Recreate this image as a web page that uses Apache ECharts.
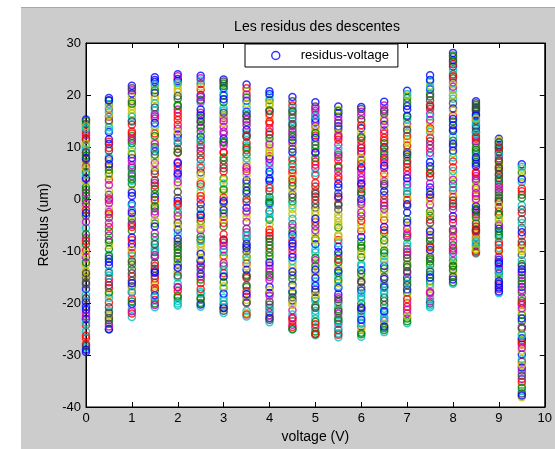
<!DOCTYPE html>
<html>
<head>
<meta charset="utf-8">
<script src="https://cdn.jsdelivr.net/npm/echarts@6/dist/echarts.min.js"></script>
<style>
  html, body { margin: 0; padding: 0; background: #fff; }
  #fig { position: absolute; left: 21px; top: 7px; width: 534px; height: 442px; background: #cccccc; border-top: 1px solid #a8a8a8; }
  #chart { position: absolute; left: 0; top: 0; width: 555px; height: 449px; }
</style>
</head>
<body>
<div id="fig"></div>
<div id="chart"></div>
<script>
// tensions appliquees (V)
const voltages = [0, 0.5, 1, 1.5, 2, 2.5, 3, 3.5, 4, 4.5, 5, 5.5, 6, 6.5, 7, 7.5, 8, 8.5, 9, 9.5]

// residus (um) lus pour chaque tension, une valeur par descente
const r00 = [15.3, -3.2, 8.9, -28.6, 4.1, -12.7, 11.4, -19.8, 0.6, -24.3, 13.2, -7.5, 6.8, -15.1, -29.4, 2.3, -9.9, 10.1, -22.0, -1.4, 14.4, -17.3, 5.2, -26.8, -5.6, 12.3, -13.9, 7.6, -20.7, -0.3, -27.9, 9.5, -11.2, 3.4, -16.4, -23.1,
  -8.7, 12.8, -25.5, 1.2, -14.6, 9.0, -21.3, 15.0, -2.1, -18.4, 6.2, -10.6, -28.2, 3.9, -6.8, 11.7, -23.8, -0.9, 14.0, -16.0, 7.9, -12.2, -26.3, 4.7, -4.4, 10.6, -19.1, -29.0, 1.8, -8.1, 13.6, -22.6, 5.9, -14.3, -2.7, 8.3]
const r05 = [19.4, -8.3, 3.7, -21.6, 15.8, -1.9, -14.2, 10.6, -25.1, 6.2, -10.7, 17.3, -18.4, 0.8, 12.9, -23.3, -5.4, 8.1, -16.0, 14.6, -3.6, -12.1, 4.9, -19.9, 18.2, -7.0, 1.6, -24.0, 11.5, -9.6, -15.3, 16.7, -2.5, 7.3, -20.8, -11.5,
  5.6, -17.1, 13.8, -4.6, -22.4, 9.3, -12.8, 18.9, -0.2, -19.0, 2.7, -8.9, 15.1, -25.0, -6.2, 11.0, -14.7, 0.1, 17.8, -21.9, 7.7, -11.0, -2.9, 13.2, -24.5, 4.4, -16.6, 19.0, -7.9, 9.8, -13.9, -0.8, 16.1, -22.9, 6.7, -18.0]
const r10 = [21.8, -6.1, 11.2, -22.7, 4.4, 17.9, -13.5, -0.9, 8.6, -19.2, 15.1, -9.3, 1.7, -16.8, 20.3, -3.8, 13.0, -21.1, 6.5, -11.7, 18.8, -7.4, 2.9, -14.9, 9.8, -18.0, 16.4, -4.6, -20.2, 12.1, -10.4, 5.6, -2.2, 19.6, -15.7, 7.9,
  -12.6, 14.3, -1.3, 20.9, -17.4, 6.0, -8.6, 10.7, -22.0, 3.5, -5.0, 17.2, -14.3, 0.6, -19.7, 12.6, -10.9, 7.3, -3.1, 21.3, -16.2, 4.9, -7.9, 15.8, -21.6, 9.1, -12.0, 1.2, 18.3, -5.4, -17.9, 11.6, -9.8, 14.9, -2.7, 3.8]
const r15 = [23.4, -4.7, 12.6, -20.8, 6.9, 19.7, -12.3, 0.4, -17.6, 15.5, -8.1, 3.1, 21.6, -14.8, 9.2, -1.8, -19.4, 17.0, -6.6, 11.1, -10.2, 22.5, 1.9, -16.1, 14.0, -3.0, 7.8, -13.4, 20.4, -20.1, 4.8, -9.4, 16.3, -0.7, 10.0, -18.5,
  8.5, -15.3, 18.4, -2.4, 13.1, -11.2, 22.9, -7.3, 2.6, -18.9, 15.9, -4.1, 5.4, -13.9, 20.9, -0.2, -9.9, 10.6, -16.7, 17.6, -5.3, 1.0, -12.9, 22.0, -20.4, 6.2, -8.7, 14.6, -1.4, -17.1, 9.6, -10.8, 19.2, 3.6, -14.2, 12.1]
const r20 = [24.0, -2.6, 14.3, -20.5, 7.1, 21.2, -11.0, -5.9, 18.1, -17.0, 3.9, 11.8, -14.1, 0.2, 22.7, -8.8, 15.9, -19.6, 5.5, -3.9, 9.6, -12.6, 19.3, -1.2, -16.3, 13.5, 2.6, -9.7, 23.1, -18.6, 6.3, -6.8, 17.2, -13.8, 10.7, -0.4,
  -9.2, 16.6, -15.1, 4.6, 20.6, -4.6, 12.4, -19.0, 8.9, -1.8, 23.6, -12.1, 1.4, -7.6, 17.9, -17.7, 11.2, -3.3, 21.9, -14.7, 6.9, -10.4, 15.2, -20.1, 3.2, -5.3, 19.8, -13.2, 9.0, -0.9, 22.3, -16.9, 12.9, -8.2, 4.9, -11.6]
const r25 = [23.7, -7.2, 10.4, -20.7, 16.6, 1.3, -13.0, 20.0, -4.3, 6.0, -17.9, 13.7, -10.0, 22.1, -1.0, -15.5, 8.4, 18.5, -6.0, 3.3, -19.3, 12.0, -11.8, 21.0, -2.8, 15.0, -8.6, 5.1, -14.4, 19.1, -0.1, -18.2, 9.9, -5.0, 14.8, -12.0,
  11.3, -16.2, 2.4, 19.6, -9.2, 7.6, -20.3, 14.1, -3.6, 22.8, -12.8, 4.5, -7.8, 17.2, -19.0, 0.6, 10.9, -14.9, 21.6, -1.9, -10.6, 13.0, -17.3, 6.7, 23.2, -5.6, -13.6, 16.1, -20.0, 2.9, -8.1, 18.9, -11.4, 9.2, -3.1, 15.6]
const r30 = [23.0, -5.3, 9.1, -21.9, 15.6, 2.0, -12.9, 19.9, -8.4, 6.6, -17.2, 12.5, -1.5, -20.3, 21.3, 4.0, -10.9, 17.5, -3.4, -15.0, 10.8, -7.8, 22.2, 0.3, -19.0, 13.9, -11.4, 7.4, -2.1, 18.6, -14.3, 3.0, -9.0, 16.0, -21.0, 11.6,
  -16.0, 5.3, 20.4, -9.7, 14.6, -0.7, -20.9, 8.0, -4.6, 17.0, -12.3, 1.2, 22.6, -18.2, 11.0, -6.8, -13.7, 15.0, 3.7, -21.5, 19.2, -2.8, 8.9, -10.2, 13.0, -16.8, 5.9, -0.4, 21.8, -8.0, -19.6, 10.2, -4.0, 16.6, -14.9, 1.8]
const r35 = [22.0, -9.1, 5.8, -22.6, 14.2, -2.7, -16.6, 18.9, 1.0, -12.4, 10.3, -20.0, 7.0, -5.7, 16.8, -14.6, -0.6, 12.7, -18.8, 20.7, -7.7, 3.6, -11.1, 9.4, -21.5, 15.3, -3.5, 0.0, -13.6, 19.5, -17.7, 11.9, -6.4, 4.6, -10.1, 13.3,
  8.6, -15.2, 17.6, -4.4, -19.4, 12.0, -8.6, 2.3, 21.3, -11.8, 6.2, -21.9, 14.8, -1.7, -16.9, 10.8, -6.9, 20.1, -13.0, 3.0, -9.4, 15.9, -22.2, 7.8, -2.4, 18.3, -14.9, 1.6, -19.9, 12.3, -7.1, 5.3, -11.0, 16.1, -18.3, 9.9]
const r40 = [20.7, -4.0, 8.2, -23.7, 13.6, -11.6, 1.5, -18.1, 17.1, -7.1, 4.7, -20.9, 10.9, -14.0, -0.8, 19.0, -9.5, 6.1, -22.4, 15.7, -2.3, -16.9, 11.7, -5.9, 2.8, -12.8, 18.3, -19.7, 7.7, -8.9, 14.5, -1.1, -15.6, 9.3, -21.8, 3.5,
  -10.3, 16.3, -2.9, 6.9, -17.5, 12.4, -22.9, 0.4, -6.5, 19.8, -13.4, 9.9, -20.3, 3.9, -8.2, 14.9, -0.1, -15.0, 18.0, -23.2, 5.3, -11.0, 12.9, -3.7, -18.6, 8.8, -7.6, 20.2, -14.6, 2.1, -21.2, 10.5, -4.9, 16.9, -12.2, -0.5]
const r45 = [19.6, -6.3, 5.0, -25.1, 12.4, -13.3, 0.9, -19.5, 16.2, -9.8, 8.0, -22.8, -2.9, 14.1, -16.5, 3.2, 18.0, -11.9, -24.2, 10.2, -4.8, -17.8, 6.7, -8.0, 15.0, -21.4, 1.8, -14.7, 11.3, -0.5, -23.5, 17.6, -10.6, 4.3, -18.9, 9.0,
  -15.4, 7.5, -3.8, 17.0, -20.4, 2.5, -9.1, 13.4, -24.6, -1.2, 10.8, -12.6, 18.8, -6.9, -18.1, 5.6, -22.2, 15.6, -1.9, 9.6, -14.0, -25.0, 3.8, -7.3, 12.9, -19.8, 0.3, -11.2, 16.8, -23.0, 6.1, -5.5, -16.9, 14.4, -8.5, 11.9]
const r50 = [18.6, -7.6, 4.5, -26.2, 11.0, -14.5, -1.7, 15.4, -20.6, 7.2, -10.3, -24.7, 13.1, 0.5, -17.4, 9.7, -4.4, -22.1, 16.9, -12.2, 2.4, -8.7, -25.5, 12.2, -15.9, 5.9, -3.1, -19.1, 14.7, -11.3, -0.2, -23.0, 8.8, -6.7, 17.8, -16.7,
  -12.9, 6.6, -21.5, 14.0, -2.4, -17.9, 9.0, -25.9, 1.5, -9.7, 16.2, -14.0, -5.2, 11.8, -23.6, 3.1, -19.6, 17.4, -8.0, -0.9, -15.2, 10.4, -24.1, 5.0, -11.8, 13.7, -20.9, -3.8, 7.9, -26.0, 15.9, -6.0, -18.5, 1.0, -13.6, 12.7]
const r55 = [17.8, -5.5, 3.8, -26.6, 10.5, -16.2, -0.9, 14.0, -21.2, 6.4, -11.5, -24.0, 12.6, -2.0, -18.3, 8.5, -7.9, -25.8, 15.8, -13.1, 1.1, -9.2, -22.9, 11.4, -14.8, 5.3, -3.7, -19.8, 16.5, -10.8, 0.1, -23.6, 9.0, -6.9, 13.4, -17.1,
  -12.2, 7.4, -20.5, 15.1, -4.5, -25.2, 2.2, -15.6, 11.9, -8.5, -22.0, 17.1, -1.2, -13.8, 6.0, -26.1, 9.7, -18.9, -3.0, 14.6, -10.2, -23.3, 4.4, -16.8, 12.2, -7.2, -21.6, 0.5, 16.9, -11.7, -24.7, 8.1, -5.0, -19.3, 2.9, -14.2]
const r60 = [17.7, -8.2, 2.7, -26.5, 12.0, -15.2, -3.3, 9.8, -20.1, 5.7, -12.5, -24.5, 14.9, -0.6, -17.6, 7.5, -6.2, -22.6, 16.1, -10.0, 0.9, -13.7, -25.7, 11.2, -18.7, 4.2, -4.9, -21.5, 13.6, -9.4, 1.9, -23.8, 8.7, -1.9, -16.0, 6.0,
  -11.2, 10.4, -19.2, 3.6, -25.0, 15.3, -7.3, -14.4, 6.8, -22.0, -2.6, 12.8, -17.0, 0.0, -26.0, 9.2, -12.9, 16.8, -5.6, -20.8, 3.0, -9.0, 14.2, -24.0, -1.0, 7.9, -15.8, -23.2, 11.8, -4.2, -18.1, 5.0, -10.6, 17.3, -21.0, 1.3]
const r65 = [18.7, -6.5, 4.9, -25.6, 13.2, -14.0, -1.3, 10.0, -19.6, 7.0, -11.0, -23.4, 15.5, 0.7, -17.0, 9.1, -4.1, -21.9, 17.2, -8.8, 2.5, -12.9, -24.8, 11.8, -16.3, 5.9, -2.8, -20.4, 14.3, -9.9, -0.1, -22.7, 8.0, -7.3, 16.4, -15.4,
  -10.4, 11.2, -18.2, 3.4, -24.1, 16.9, -5.4, -13.4, 7.6, -21.1, -0.7, 14.0, -16.8, 1.5, -25.2, 9.7, -12.0, 18.0, -3.4, -19.0, 6.4, -8.0, 12.6, -23.0, -1.9, 4.3, -15.0, -21.6, 10.7, -6.0, -17.7, 15.0, -11.5, 2.9, -24.5, 8.5]
const r70 = [20.8, -3.9, 7.3, -23.9, 14.4, -12.0, 1.0, 17.9, -18.0, 5.4, -8.5, -21.3, 11.5, -1.4, -15.1, 19.4, -6.6, 3.4, -20.0, 9.5, -10.7, 16.0, -23.0, -0.2, 12.8, -14.2, -5.1, 6.8, -17.4, 18.6, -9.6, 2.1, -22.0, 13.9, -13.1, 8.6,
  -7.4, 12.1, -16.3, 4.6, 19.9, -11.4, -2.6, 8.1, -20.7, 15.3, -5.7, 0.3, -13.9, 17.2, -23.5, 10.3, -9.1, 2.8, -18.8, 13.3, -1.0, -15.7, 6.1, 20.2, -10.2, -22.6, 9.0, -4.5, 15.8, -19.3, 1.5, -7.0, 11.0, -16.6, 4.0, -12.6]
const r75 = [23.8, -2.4, 9.7, -20.8, 16.4, -10.5, 4.2, 21.1, -15.8, 0.3, 12.9, -6.9, -18.6, 19.0, 6.3, -12.7, -4.0, 22.6, -19.7, 14.6, -8.1, 2.2, -14.5, 18.1, 8.3, -1.1, -17.0, 11.1, -9.8, 20.2, 5.0, -13.6, 15.2, -5.8, -20.1, 1.4,
  -7.5, 13.6, -16.4, 3.0, 21.8, -11.2, 7.1, -3.2, 17.3, -19.2, 10.4, -0.4, -14.0, 22.9, -9.0, 4.9, 15.9, -17.9, 1.0, 19.7, -6.2, -12.0, 11.8, -20.5, 8.9, -2.9, 17.8, -15.1, 5.7, -9.3, 21.5, -18.1, 13.2, -4.6, 0.8, -11.6]
const r80 = [28.1, 2.9, 16.0, -16.3, 22.4, -6.5, 10.1, 25.5, -11.9, 6.1, 19.3, -2.0, -14.7, 13.4, 26.7, -8.9, 0.4, 21.0, -4.6, 8.8, -13.0, 17.4, 24.0, -0.9, 12.0, -10.4, 4.5, 27.3, -15.5, 14.9, -7.2, 20.0, 1.7, -12.4, 23.2, 9.3,
  11.2, -9.5, 24.8, 3.7, -14.0, 18.4, -3.3, 27.6, 7.2, -11.1, 21.6, 0.9, -5.8, 15.4, -16.0, 25.9, 5.4, -8.1, 19.9, -1.4, 13.1, -12.8, 23.6, 2.2, -6.2, 17.0, -15.0, 10.6, 26.4, -3.9, 8.0, -9.9, 22.0, -0.3, 14.2, -13.6]
const r85 = [18.8, 3.5, 11.6, -10.5, 15.1, -4.2, 7.6, 17.2, -8.0, 0.6, 13.0, -1.9, -9.7, 9.4, 16.3, -6.1, 5.2, 12.2, -3.0, 1.8, -10.0, 14.1, 18.1, -5.3, 8.5, -7.4, 2.6, 16.9, -9.0, 10.7, -2.6, 14.8, 4.4, -6.8, 12.9, 6.8,
  9.9, -6.4, 15.7, 1.1, -9.3, 13.6, -2.2, 17.7, 4.9, -8.6, 11.1, -0.4, -4.7, 16.0, 7.1, -10.3, 12.6, 2.1, -7.8, 18.4, -1.4, 9.0, -5.8, 14.4, 3.9, -9.7, 17.5, 6.3, -3.5, 11.9, -8.3, 0.0, 15.4, -6.0, 8.0, -2.0]
const r90 = [11.6, -3.1, 4.6, -18.1, 8.3, -10.9, 0.2, 10.4, -14.3, 2.8, -6.7, -16.6, 6.5, -1.6, -12.1, 9.6, -8.3, 3.7, -17.3, 11.0, -4.9, -13.5, 5.5, -0.6, -9.4, 7.8, -15.2, 1.3, -11.7, 10.0, -2.4, -7.5, 8.9, -16.0, 4.0, -5.7,
  -7.0, 5.9, -14.9, 1.8, -10.1, 9.1, -17.8, -2.9, 7.1, -12.7, -5.2, 11.3, -0.3, -15.8, 3.3, -8.8, 10.7, -13.1, -4.2, 6.1, -16.3, 0.7, -9.9, 8.6, -11.2, -1.1, 4.8, -17.0, -6.2, 9.9, -14.0, 2.3, -3.7, 10.9, -12.4, 7.4]
const r95 = [6.7, -12.5, -28.0, 3.2, -20.4, -35.8, -5.6, -16.9, 5.1, -31.3, -9.0, -24.6, -38.1, 0.8, -14.1, -27.2, -2.7, -33.5, -19.0, 4.2, -10.7, -29.9, -22.3, -7.1, -36.9, -15.8, -25.9, -3.9, -32.4, -18.0, 2.0, -11.8, -34.6, -21.7, -8.2, -26.8,
  -23.5, 1.5, -30.8, -14.6, 5.8, -37.4, -6.4, -19.6, -27.6, -1.2, -33.0, -10.0, -24.9, 3.8, -16.3, -35.2, -4.6, -21.0, -29.2, -12.9, -37.8, 0.2, -8.8, -26.2, -17.5, -31.9, -2.0, -13.5, -36.3, -20.0, 6.2, -28.6, -9.6, -34.0, -23.0, -15.2]

const residus = [r00, r05, r10, r15, r20, r25, r30, r35, r40, r45, r50, r55, r60, r65, r70, r75, r80, r85, r90, r95]

// ordre des couleurs matlab
const colorOrder = ['#0000ff', '#008000', '#ff0000', '#00bfbf', '#bf00bf', '#bfbf00', '#404040']

const legendName = 'residus-voltage'
const font = 'Liberation Sans, Arial, sans-serif'

const chart = echarts.init(document.getElementById('chart'))

// une serie par descente (comme plot(V, R, 'o') avec une matrice)
const nRuns = r00.length
const series = []
for (let k = 0; k < nRuns; k++) {
  series.push({
    name: k === 0 ? legendName : 'descente ' + (k + 1),
    type: 'scatter',
    symbol: 'circle',
    symbolSize: 7,
    itemStyle: {
      color: 'transparent',
      borderColor: colorOrder[k % colorOrder.length],
      borderWidth: 1.5
    },
    data: voltages.map((v, j) => [v, residus[j][k]])
  })
}

const tickInside = { show: true, inside: true, length: 5, lineStyle: { color: '#000', width: 1 } }
const blackLine = { show: true, onZero: false, lineStyle: { color: '#000', width: 1 } }

chart.setOption({
  animation: false,
  title: {
    text: 'Les residus des descentes',
    left: 317,
    top: 20,
    padding: 0,
    textAlign: 'center',
    textStyle: { fontFamily: font, fontSize: 14, fontWeight: 'normal', color: '#000' }
  },
  legend: {
    data: [legendName],
    left: 245,
    top: 44,
    padding: [5, 9, 5, 26],
    backgroundColor: '#fff',
    borderColor: '#000',
    borderWidth: 1,
    borderRadius: 0,
    itemWidth: 8,
    itemHeight: 8,
    icon: 'circle',
    itemStyle: { color: 'transparent', borderColor: '#0000ff', borderWidth: 1.5 },
    textStyle: { fontFamily: font, fontSize: 13, color: '#000', padding: [0, 0, 0, 16] },
    selectedMode: false
  },
  grid: {
    left: 86, top: 43, width: 463, height: 364,
    show: true, backgroundColor: '#fff', borderColor: '#000', borderWidth: 1
  },
  xAxis: [{
    type: 'value', min: 0, max: 10, interval: 1,
    name: 'voltage (V)', nameLocation: 'middle', nameGap: 23,
    nameTextStyle: { fontFamily: font, fontSize: 14, color: '#000' },
    axisLine: blackLine,
    axisTick: tickInside,
    axisLabel: { fontFamily: font, fontSize: 13, color: '#000', margin: 5 },
    splitLine: { show: false }
  }, {
    type: 'value', min: 0, max: 10, interval: 1, position: 'top',
    axisLine: blackLine,
    axisTick: tickInside,
    axisLabel: { show: false },
    splitLine: { show: false }
  }],
  yAxis: [{
    type: 'value', min: -40, max: 30, interval: 10,
    name: 'Residus (um)', nameLocation: 'middle', nameGap: 33,
    nameTextStyle: { fontFamily: font, fontSize: 14, color: '#000' },
    axisLine: blackLine,
    axisTick: tickInside,
    axisLabel: { fontFamily: font, fontSize: 13, color: '#000', margin: 5 },
    splitLine: { show: false }
  }, {
    type: 'value', min: -40, max: 30, interval: 10, position: 'right',
    axisLine: blackLine,
    axisTick: tickInside,
    axisLabel: { show: false },
    splitLine: { show: false }
  }],
  series: series
})
</script>
</body>
</html>
